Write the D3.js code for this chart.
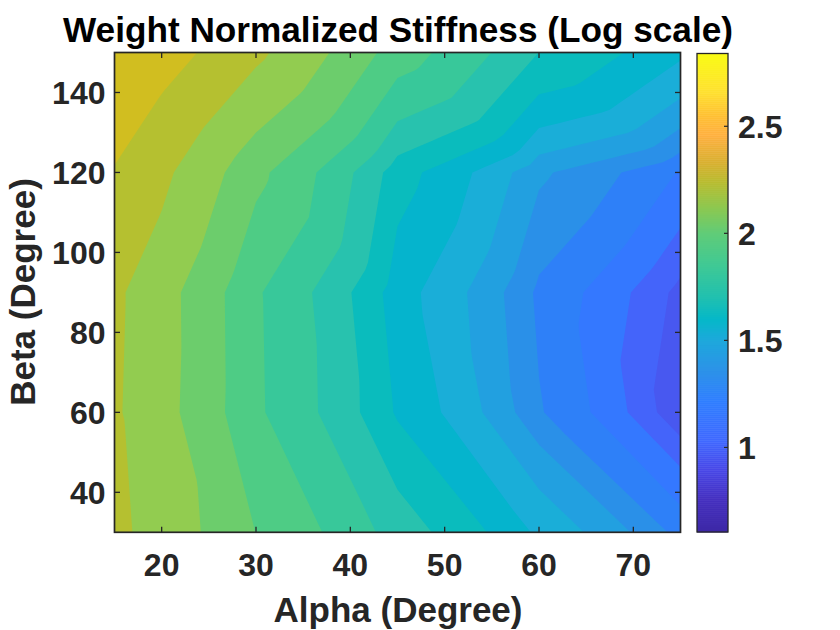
<!DOCTYPE html>
<html><head><meta charset="utf-8">
<script src="https://cdn.jsdelivr.net/npm/d3@7"></script>
<style>html,body{margin:0;padding:0;background:#fff}svg{display:block}text{font-family:"Liberation Sans",Arial,sans-serif;font-weight:700}</style>
</head><body><svg id="c" width="840" height="630"></svg>
<script>
const alphaValues=[15,30,45,60,75];
const betaValues=[30,60,90,120,150];
const stiffness30=[167,99.6,56.5,30.1,14.4];
const stiffness60=[163,82.3,38.5,16.2,6.3];
const stiffness90=[165,81.6,34.9,15,7.3];
const stiffness120=[196.4,106,43.8,20.8,12.3];
const stiffness150=[247,165.8,89,50,33];
const logLevels=[0.8,0.9,1.0,1.1,1.2,1.3,1.4,1.5,1.6,1.7,1.8,1.9,2.0,2.1,2.2,2.3];
const bandColors=["#4858F0","#4464FA","#3478FF","#2E80F8","#2A90E8","#22A0E0","#1AAED8","#05B4CD","#0ABCBD","#28C2AE","#38C89A","#4ECC85","#6CCD6C","#92CC50","#B5C030","#D1BE20"];
const alphaTicks=[20,30,40,50,60,70];
const betaTicks=[40,60,80,100,120,140];
const colorTicks=[1,1.5,2,2.5];
const colorLimits=[0.605,2.84];
const mapValues=[0.605,0.62,0.76,0.90,1.03,1.22,1.36,1.50,1.60,1.70,1.85,2.0,2.12,2.24,2.33,2.46,2.55,2.66,2.84];
const mapColors=["#3D28A8","#3D28A8","#4530C0","#4848E8","#4068FF","#2F7FFF","#2C92E8","#1EA8DC","#05B8C8","#20C0B0","#3FC995","#60CC78","#8CC850","#B8BC30","#D8B030","#FFB040","#FFC033","#FFE030","#F9FB15"];
const grid=[stiffness30,stiffness60,stiffness90,stiffness120,stiffness150];

const L=114.5,R=680.5,T=52.5,B=532.3;
const x=d3.scaleLinear().domain([15,75]).range([L,R]);
const y=d3.scaleLinear().domain([30,150]).range([B,T]);
const svg=d3.select("#c");
const ink="#262626";

// Surface is linear on triangles split along each cell's falling diagonal.
function surface(i,j){
  const ci=Math.min(Math.floor(i),alphaValues.length-2),cj=Math.min(Math.floor(j),betaValues.length-2);
  const u=i-ci,v=j-cj;
  const a=grid[cj][ci],b=grid[cj][ci+1],c=grid[cj+1][ci],d=grid[cj+1][ci+1];
  return u+v<=1 ? a+(b-a)*u+(c-a)*v : d+(c-d)*(1-u)+(b-d)*(1-v);
}
const sub=16,nx=(alphaValues.length-1)*sub+1,ny=(betaValues.length-1)*sub+1;
const field=[];
for(let j=0;j<ny;j++)for(let i=0;i<nx;i++)field.push(surface(i/sub,j/sub));
const contours=d3.contours().size([nx,ny]).thresholds(logLevels.map(l=>Math.pow(10,l)))(field);
const gx=d3.scaleLinear().domain([0.5,nx-0.5]).range([x(15),x(75)]);
const gy=d3.scaleLinear().domain([0.5,ny-0.5]).range([y(30),y(150)]);
const path=d3.geoPath(d3.geoTransform({point(a,b){this.stream.point(gx(a),gy(b));}}));

svg.append("clipPath").attr("id","plot").append("rect").attr("x",L).attr("y",T).attr("width",R-L).attr("height",B-T);
const plot=svg.append("g").attr("clip-path","url(#plot)");
plot.append("rect").attr("x",L).attr("y",T).attr("width",R-L).attr("height",B-T).attr("fill",bandColors[0]);
plot.selectAll("path").data(contours).join("path").attr("d",path).attr("fill",(d,i)=>bandColors[i]);

function tickText(sel){sel.attr("font-size",32).attr("fill",ink);}
const ax=svg.append("g").attr("stroke",ink).attr("stroke-width",1.3).attr("fill","none");
ax.append("rect").attr("x",L).attr("y",T).attr("width",R-L).attr("height",B-T).attr("stroke-width",1.7);
alphaTicks.forEach(t=>{
  ax.append("line").attr("x1",x(t)).attr("x2",x(t)).attr("y1",B).attr("y2",B-5.5);
  ax.append("line").attr("x1",x(t)).attr("x2",x(t)).attr("y1",T).attr("y2",T+5.5);
});
betaTicks.forEach(t=>{
  ax.append("line").attr("y1",y(t)).attr("y2",y(t)).attr("x1",L).attr("x2",L+5.5);
  ax.append("line").attr("y1",y(t)).attr("y2",y(t)).attr("x1",R).attr("x2",R-5.5);
});
svg.append("g").selectAll("text").data(alphaTicks).join("text").attr("x",d=>x(d)).attr("y",575.5).attr("text-anchor","middle").text(d=>d).call(tickText);
svg.append("g").selectAll("text").data(betaTicks).join("text").attr("x",105.5).attr("y",d=>y(d)+11.5).attr("text-anchor","end").text(d=>d).call(tickText);

// colour bar
const cbL=697,cbR=728,cbT=53.5,cbB=532;
const cv=d3.scaleLinear().domain(colorLimits).range([cbB,cbT]);
const cmap=d3.scaleLinear().domain(mapValues).range(mapColors).interpolate(d3.interpolateRgb);
const cells=d3.range(0,240).map(i=>colorLimits[0]+(i/240)*(colorLimits[1]-colorLimits[0]));
const step=(colorLimits[1]-colorLimits[0])/240;
svg.append("g").selectAll("rect").data(cells).join("rect")
  .attr("x",cbL).attr("width",cbR-cbL).attr("y",d=>cv(d+step)).attr("height",d=>cv(d)-cv(d+step)+0.5).attr("fill",d=>cmap(d+step/2));
const cb=svg.append("g").attr("stroke",ink).attr("fill","none");
cb.append("rect").attr("x",cbL).attr("y",cbT).attr("width",cbR-cbL).attr("height",cbB-cbT).attr("stroke-width",1.3);
colorTicks.forEach(t=>cb.append("line").attr("x1",cbR).attr("x2",cbR-4).attr("y1",cv(t)).attr("y2",cv(t)).attr("stroke-width",1.2));
svg.append("g").selectAll("text").data(colorTicks).join("text").attr("x",738).attr("y",d=>cv(d)+11.5).text(d=>d).call(tickText);

svg.append("text").attr("x",398).attr("y",42).attr("text-anchor","middle").attr("font-size",35.2).attr("fill","#000").text("Weight Normalized Stiffness (Log scale)");
svg.append("text").attr("x",398).attr("y",622).attr("text-anchor","middle").attr("font-size",35).attr("fill",ink).text("Alpha (Degree)");
svg.append("text").attr("transform","translate(35,292) rotate(-90)").attr("text-anchor","middle").attr("font-size",35).attr("fill",ink).text("Beta (Degree)");
</script></body></html>
